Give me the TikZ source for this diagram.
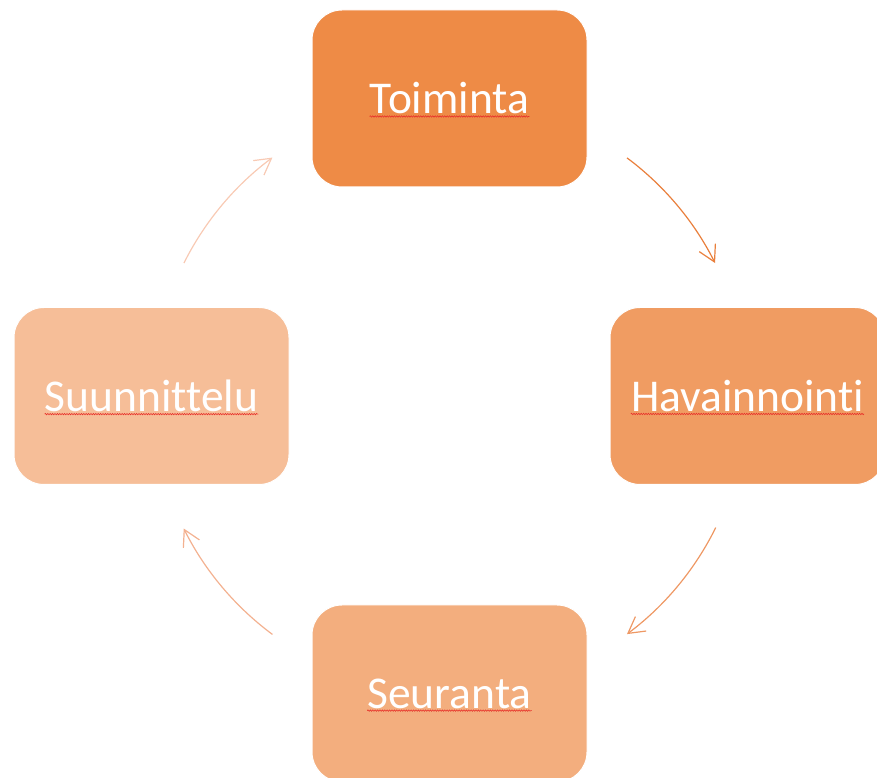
\documentclass[tikz,border=0pt]{standalone}
\usepackage{fontspec}
\setmainfont{Carlito}[Ligatures={NoCommon,NoContextual}]
\usetikzlibrary{arrows.meta,decorations.pathmorphing}
\definecolor{cA}{HTML}{EE8B46}
\definecolor{cB}{HTML}{F09C62}
\definecolor{cC}{HTML}{F3AE7E}
\definecolor{cD}{HTML}{F6BE98}
\definecolor{aA}{HTML}{E97F3C}
\definecolor{aB}{HTML}{EE9864}
\definecolor{aC}{HTML}{F3B190}
\definecolor{aD}{HTML}{F8CAB4}
\definecolor{spell}{HTML}{E8332B}
\tikzset{
  box/.style={draw=white, line width=1pt, rounded corners=30pt, minimum width=275pt, minimum height=177pt, inner sep=0pt},
  lbl/.style={text=white, font=\fontsize{45.5}{50}\selectfont, inner sep=0pt, anchor=center},
  arr/.style={line width=1.2pt, -{Straight Barb[length=16pt, width=18pt, line width=1.2pt]}},
  wavy/.style={draw=spell, line width=0.6pt, decorate, decoration={snake, amplitude=0.7pt, segment length=2.4pt}}
}
\begin{document}
\begin{tikzpicture}[x=1pt,y=1pt]
\useasboundingbox (0,0) rectangle (877,778);
\coordinate (c) at (449.5,382);
\node[box, fill=cA] (b1) at (449.5,679.5) {};
\node[box, fill=cB] (b2) at (747.5,382) {};
\node[box, fill=cC] (b3) at (449.5,84.5) {};
\node[box, fill=cD] (b4) at (151.5,382) {};
\node[lbl] (t1) at (b1.center) {Toiminta};
\node[lbl] (t2) at (b2.center) {Havainnointi};
\node[lbl] (t3) at (b3.center) {Seuranta};
\node[lbl] (t4) at (b4.center) {Suunnittelu};
\foreach \t in {t1,t2,t3,t4}{
  \draw[wavy] ([yshift=-2.5pt]\t.base west) -- ([yshift=-2.5pt]\t.base east);
}
\draw[arr, aA] ([shift={(53.3:297)}]c) arc[start angle=53.3, end angle=26.6, radius=297];
\draw[arr, aB] ([shift={(-26.3:297)}]c) arc[start angle=-26.3, end angle=-53.3, radius=297];
\draw[arr, aC] ([shift={(-126.6:297)}]c) arc[start angle=-126.6, end angle=-153.5, radius=297];
\draw[arr, aD] ([shift={(153.4:297)}]c) arc[start angle=153.4, end angle=126.6, radius=297];
\end{tikzpicture}
\end{document}
